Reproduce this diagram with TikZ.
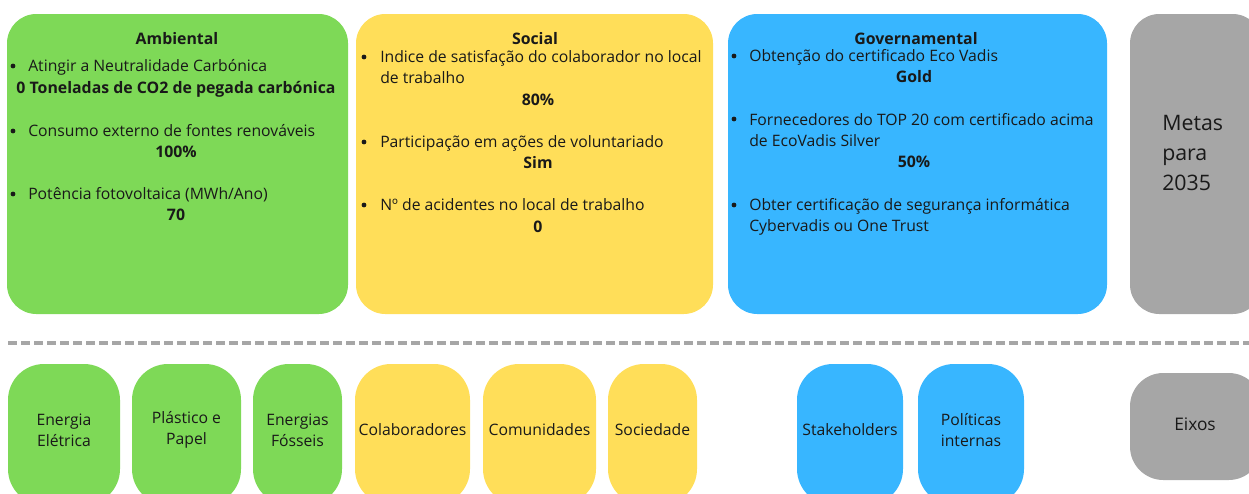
\documentclass[tikz,border=0pt]{standalone}
\usepackage{fontspec}
\setmainfont{Open Sans}
\usepackage{tikz}
\usetikzlibrary{positioning}
\definecolor{ambgreen}{RGB}{126, 217, 87}
\definecolor{socyellow}{RGB}{255, 222, 89}
\definecolor{govblue}{RGB}{56, 182, 255}
\definecolor{metagrey}{RGB}{166, 166, 166}
\definecolor{ink}{RGB}{25, 25, 25}

\begin{document}
\begin{tikzpicture}[x=0.75pt, y=-0.75pt,
    every node/.style={inner sep=0, text=ink, font=\fontsize{11.8}{15.75}\selectfont},
    item/.style={anchor=base west, align=left},
    value/.style={anchor=base, font=\fontsize{11.9}{15.75}\selectfont\bfseries},
    dot/.style={circle, fill=ink, minimum size=3.6pt},
    tag/.style={align=center},
    panel/.style={rounded corners=22pt}]
  \clip (0, 0) rectangle (1249, 493);

  % upper panels
  \fill[ambgreen, panel] (7, 14) rectangle (348, 314);
  \fill[socyellow, panel] (356, 14) rectangle (713, 314);
  \fill[govblue, panel] (728, 14) rectangle (1107, 314);
  \fill[metagrey, panel] (1130, 14) rectangle (1262, 314);

  % y = first baseline / last baseline
  \node[value] (ambhead) at (177, 44) {Ambiental};
  \foreach [count=\n] \y/\z/\t in {71/71/{Atingir a Neutralidade Carbónica},
      136/136/{Consumo externo de fontes renováveis},
      199/199/{Potência fotovoltaica (MWh/Ano)}} {
    \node[dot] (ambdot\n) at (13, \y - 5) {};
    \node[item] (amb\n) at (28, \z) {\t};
  }
  \foreach [count=\n] \y/\t in {93/{0 Toneladas de CO2 de pegada carbónica}, 157/100\%, 220/70} {
    \node[value] (ambval\n) at (176, \y) {\t};
  }

  \node[value] (sochead) at (535, 44) {Social};
  \foreach [count=\n] \y/\z/\t in {62/83/{Indice de satisfação do colaborador no local\\de trabalho},
      147/147/{Participação em ações de voluntariado},
      210/210/{Nº de acidentes no local de trabalho}} {
    \node[dot] (socdot\n) at (364, \y - 5) {};
    \node[item] (soc\n) at (380, \z) {\t};
  }
  \foreach [count=\n] \y/\t in {105/80\%, 168/Sim, 232/0} {
    \node[value] (socval\n) at (538, \y) {\t};
  }

  \node[value] (govhead) at (916, 44) {Governamental};
  \foreach [count=\n] \y/\z/\t in {61/61/{Obtenção do certificado Eco Vadis},
      124/146/{Fornecedores do TOP 20 com certificado acima\\de EcoVadis Silver},
      210/231/{Obter certificação de segurança informática\\Cybervadis ou One Trust}} {
    \node[dot] (govdot\n) at (734, \y - 5) {};
    \node[item] (gov\n) at (749, \z) {\t};
  }
  \foreach [count=\n] \y/\t in {82/Gold, 167/50\%} {
    \node[value] (govval\n) at (914, \y) {\t};
  }

  \node[item, font=\fontsize{16}{22.5}\selectfont] (metas) at (1162, 190) {Metas\\para\\2035};

  % separator
  \coordinate (sepleft) at (8, 343);
  \coordinate (sepright) at (1249, 343);
  \draw[metagrey, line width=3pt, dash pattern=on 6.75pt off 3pt] (sepleft) -- (sepright);

  % lower tags
  \foreach [count=\n] \a/\b/\c/\t in {8/120/ambgreen/{Energia\\Elétrica},
      132/241/ambgreen/{Plástico e\\Papel},
      253/342/ambgreen/{Energias\\Fósseis},
      355/470/socyellow/Colaboradores,
      483/596/socyellow/Comunidades,
      608/697/socyellow/Sociedade,
      797/903/govblue/Stakeholders,
      918/1024/govblue/{Políticas\\internas}} {
    \fill[\c, rounded corners=27pt] (\a, 364) rectangle (\b, 505);
    \node[tag] (tag\n) at ({(\a + \b) / 2}, 430) {\t};
  }

  \fill[metagrey, rounded corners=25pt] (1130, 373) rectangle (1262, 480);
  \node[tag, font=\fontsize{13}{16}\selectfont] (eixos) at (1195, 424) {Eixos};
\end{tikzpicture}
\end{document}
